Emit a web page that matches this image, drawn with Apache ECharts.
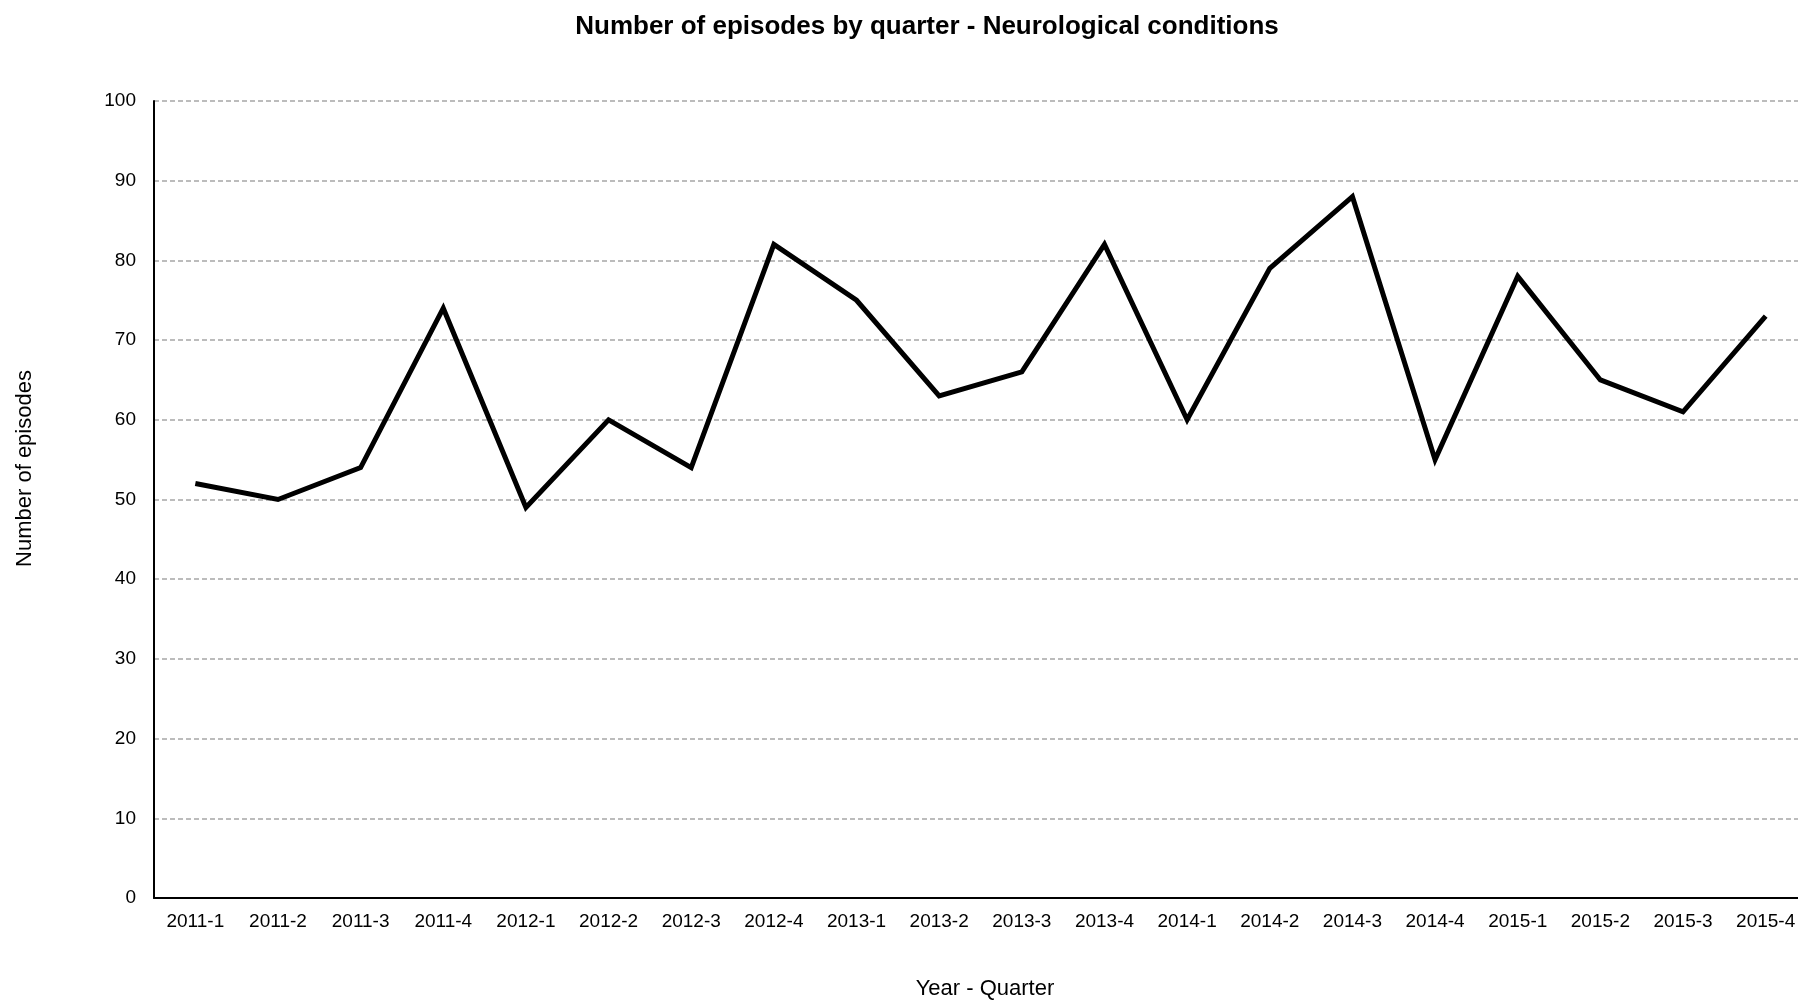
<!DOCTYPE html>
<html>
<head>
<meta charset="utf-8">
<script src="https://cdn.jsdelivr.net/npm/echarts@6/dist/echarts.min.js"></script>
<style>
html,body{margin:0;padding:0;background:#fff;}
#chart{width:1798px;height:1003px;}
</style>
</head>
<body>
<div id="chart"></div>
<script>
const categories = ['2011-1','2011-2','2011-3','2011-4','2012-1','2012-2','2012-3','2012-4','2013-1','2013-2','2013-3','2013-4','2014-1','2014-2','2014-3','2014-4','2015-1','2015-2','2015-3','2015-4'];
const episodes = [52,50,54,74,49,60,54,82,75,63,66,82,60,79,88,55,78,65,61,73];
const yTicks = {min:0, max:100, interval:10};
const titleText = 'Number of episodes by quarter - Neurological conditions';
const xName = 'Year - Quarter';
const yName = 'Number of episodes';

const FONT = '"Liberation Sans Narrow", "Arial Narrow", "Liberation Sans", Arial, sans-serif';
const chart = echarts.init(document.getElementById('chart'), null, {renderer:'canvas'});
chart.setOption({
  backgroundColor:'#fff',
  animation:false,
  title:{
    text:titleText,
    left:922, top:9, textAlign:'center',
    textStyle:{fontFamily:FONT, fontSize:26, fontWeight:'bold', color:'#000'}
  },
  grid:{left:154, width:1653, top:101, bottom:105, containLabel:false, outerBoundsMode:'none'},
  xAxis:{
    type:'category',
    data:categories,
    boundaryGap:true,
    name:xName,
    nameLocation:'middle',
    nameGap:80,
    nameTextStyle:{fontFamily:FONT, fontSize:22, color:'#000', padding:[0,0,0,9]},
    axisLine:{lineStyle:{color:'#000', width:2}},
    axisTick:{show:false},
    axisLabel:{fontFamily:FONT, fontSize:19, color:'#000', margin:14, interval:0},
    splitLine:{show:false}
  },
  yAxis:{
    type:'value',
    min:yTicks.min, max:yTicks.max, interval:yTicks.interval,
    name:yName,
    nameLocation:'middle',
    nameGap:118,
    nameTextStyle:{fontFamily:FONT, fontSize:22, color:'#000', padding:[0,0,0,62]},
    axisLine:{show:true, lineStyle:{color:'#000', width:2}},
    axisTick:{show:false},
    axisLabel:{fontFamily:FONT, fontSize:19, color:'#000', margin:18},
    splitLine:{show:true, lineStyle:{color:'#a6a6a6', width:1.5, type:[5,3]}}
  },
  series:[{
    type:'line',
    data:episodes,
    showSymbol:false,
    symbol:'none',
    lineStyle:{color:'#000', width:5, join:'miter'},
    itemStyle:{color:'#000'}
  }]
});
</script>
</body>
</html>
